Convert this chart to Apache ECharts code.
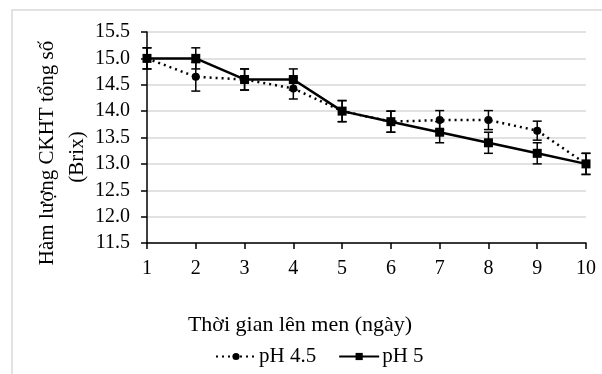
<!DOCTYPE html>
<html>
<head>
<meta charset="utf-8">
<script src="https://cdn.jsdelivr.net/npm/echarts@6/dist/echarts.min.js"></script>
<style>
  html, body { margin: 0; padding: 0; background: #fff; }
  #chart { width: 602px; height: 374px; }
</style>
</head>
<body>
<div id="chart"></div>
<script>
// Fermentation days
var days = ['1', '2', '3', '4', '5', '6', '7', '8', '9', '10'];
// Total soluble solids (Brix), pH 4.5 and its standard deviation
var ph45 = [15.0, 14.65, 14.6, 14.43, 14.0, 13.8, 13.83, 13.83, 13.63, 13.0];
var ph45Err = [0.2, 0.27, 0.2, 0.2, 0.2, 0.2, 0.18, 0.18, 0.18, 0.2];
// Total soluble solids (Brix), pH 5 and its standard deviation
var ph5 = [15.0, 15.0, 14.6, 14.6, 14.0, 13.8, 13.6, 13.4, 13.2, 13.0];
var ph5Err = [0.2, 0.2, 0.2, 0.2, 0.2, 0.2, 0.2, 0.2, 0.2, 0.2];
// Y axis range and step
var yMin = 11.5, yMax = 15.5, yStep = 0.5;

var serif = '"Liberation Serif", "Times New Roman", serif';

function errData(vals, errs) {
  return vals.map(function (v, i) { return [i, v - errs[i], v + errs[i]]; });
}

function renderErr(params, api) {
  var lo = api.coord([api.value(0), api.value(1)]);
  var hi = api.coord([api.value(0), api.value(2)]);
  var cap = 4.5;
  var style = { stroke: '#000', lineWidth: 1.5 };
  return {
    type: 'group',
    children: [
      { type: 'line', shape: { x1: lo[0], y1: lo[1], x2: hi[0], y2: hi[1] }, style: style },
      { type: 'line', shape: { x1: lo[0] - cap, y1: lo[1], x2: lo[0] + cap, y2: lo[1] }, style: style },
      { type: 'line', shape: { x1: hi[0] - cap, y1: hi[1], x2: hi[0] + cap, y2: hi[1] }, style: style }
    ]
  };
}

var chart = echarts.init(document.getElementById('chart'), null, { renderer: 'canvas' });
chart.setOption({
  animation: false,
  backgroundColor: '#fff',
  grid: { left: 147, right: 16, top: 32, bottom: 131 },
  graphic: [
    { type: 'rect', shape: { x: 12, y: 10, width: 600, height: 380 },
      style: { fill: 'none', stroke: '#d9d9d9', lineWidth: 1.5 }, z: -1 },
    { type: 'text', x: 47, y: 153, rotation: Math.PI / 2,
      style: { text: 'Hàm lượng CKHT tổng số', font: '21px ' + serif, fill: '#000',
               align: 'center', verticalAlign: 'middle' } },
    { type: 'text', x: 77, y: 157, rotation: Math.PI / 2,
      style: { text: '(Brix)', font: '21px ' + serif, fill: '#000',
               align: 'center', verticalAlign: 'middle' } },
    { type: 'text', x: 300, y: 325,
      style: { text: 'Thời gian lên men (ngày)', font: '22px ' + serif, fill: '#000',
               align: 'center', verticalAlign: 'middle' } }
  ],
  legend: {
    left: 210, top: 341,
    itemWidth: 40, itemHeight: 9, itemGap: 22,
    textStyle: { fontFamily: serif, fontSize: 21, color: '#000', padding: [0, 0, 0, -2] },
    data: ['pH 4.5', 'pH 5']
  },
  xAxis: {
    type: 'category',
    data: days,
    boundaryGap: false,
    axisLine: { lineStyle: { color: '#000', width: 1.5 } },
    axisTick: { show: true, length: 6, lineStyle: { color: '#000', width: 1.5 } },
    axisLabel: { fontFamily: serif, fontSize: 20, color: '#000', margin: 16 },
    splitLine: { show: false }
  },
  yAxis: {
    type: 'value',
    min: yMin, max: yMax, interval: yStep,
    axisLine: { show: true, lineStyle: { color: '#000', width: 1.5 } },
    axisTick: { show: true, length: 6, lineStyle: { color: '#000', width: 1.5 } },
    axisLabel: { fontFamily: serif, fontSize: 20, color: '#000', margin: 17,
                 formatter: function (v) { return v.toFixed(1); } },
    splitLine: { lineStyle: { color: '#d9d9d9', width: 1.5 } }
  },
  series: [
    {
      name: 'pH 4.5', type: 'line', data: ph45,
      symbol: 'circle', symbolSize: 8,
      lineStyle: { color: '#000', width: 2.5, type: [2, 4] },
      itemStyle: { color: '#000' }, z: 3
    },
    {
      name: 'pH 5', type: 'line', data: ph5,
      symbol: 'rect', symbolSize: 9,
      lineStyle: { color: '#000', width: 2.5 },
      itemStyle: { color: '#000' }, z: 3
    },
    { type: 'custom', renderItem: renderErr, data: errData(ph45, ph45Err), z: 4, silent: true },
    { type: 'custom', renderItem: renderErr, data: errData(ph5, ph5Err), z: 4, silent: true }
  ]
});
</script>
</body>
</html>
